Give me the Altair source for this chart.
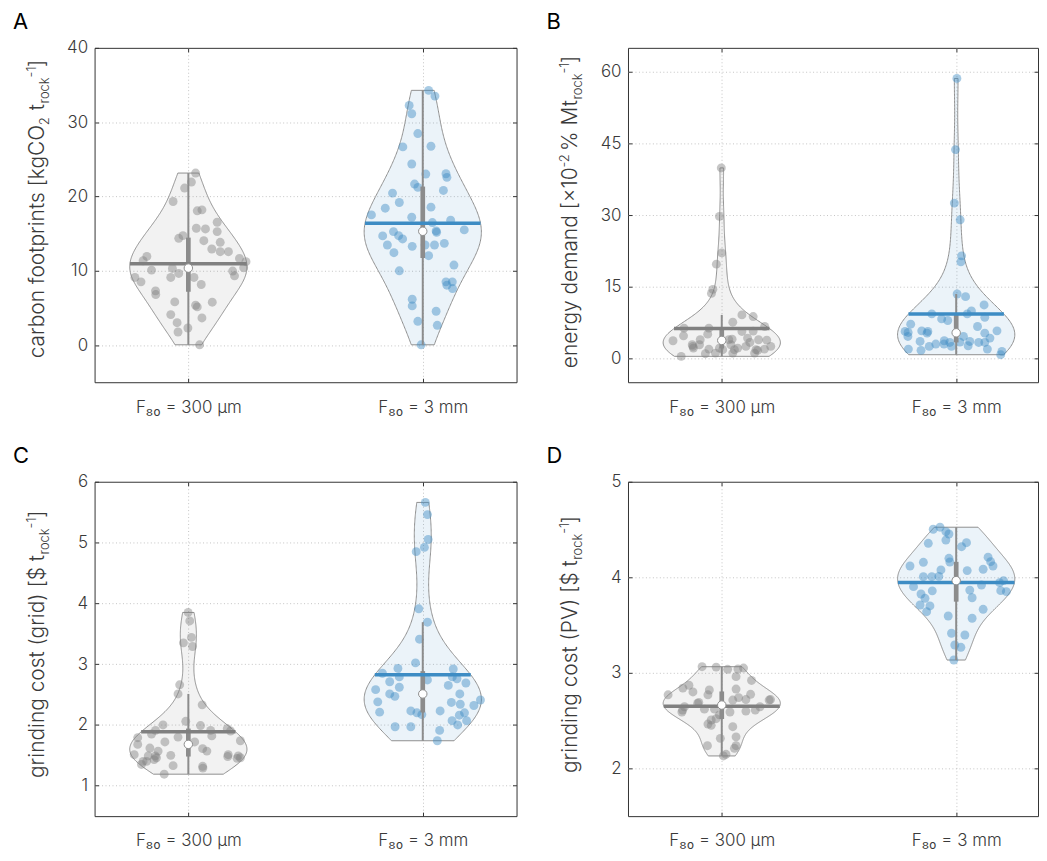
import numpy as np
import pandas as pd
import altair as alt

# ---------------- values ----------------
categories = ["F₈₀ = 300 µm", "F₈₀ = 3 mm"]

# A: carbon footprints
a_300um = [23.15, 21.94, 21.13, 19.32, 18.07, 18.2, 16.53, 15.72, 15.63, 15.27, 14.37, 14.73, 14.05, 13.83, 12.93,
           12.57, 12.57, 11.93, 11.35, 11.66, 11.22, 10.41, 10.09, 10.31, 9.64, 9.1, 9.1, 9.96, 9.32, 9.1,
           8.51, 8.15, 7.3, 6.8, 5.81, 5.36, 5.14, 5.77, 4.1, 3.65, 3.01, 1.76, 2.3, 0.04]
a_300um_jitter = [0.031, 0.013, -0.016, -0.065, 0.038, 0.058, 0.123, 0.034, 0.073, 0.123, -0.041, -0.023, 0.066, 0.136, 0.1,
                  0.136, 0.171, -0.177, -0.193, 0.218, 0.246, 0.236, -0.157, -0.068, -0.041, -0.075, 0.024, 0.189, 0.197, -0.228,
                  -0.202, 0.055, -0.14, -0.139, -0.058, 0.031, 0.038, 0.102, -0.075, 0.058, -0.048, -0.044, -0.002, 0.048]
a_3mm = [34.28, 33.51, 32.25, 31.13, 28.47, 26.67, 26.76, 24.37, 23.02, 23.06, 22.57, 21.67, 21.22, 20.81, 20.45,
         19.19, 18.42, 18.56, 17.52, 17.2, 16.8, 16.49, 15.5, 15.36, 15.18, 15.27, 14.69, 14.72, 14.28, 13.47,
         13.29, 13.47, 13.47, 13.69, 12.43, 12.03, 10.0, 10.77, 8.51, 8.51, 8.06, 7.61, 6.17, 5.27, 4.55,
         3.2, 2.66, 0.04]
a_3mm_jitter = [0.025, 0.052, -0.058, -0.047, -0.021, -0.085, 0.035, -0.047, 0.013, 0.099, 0.103, -0.035, -0.021, 0.088, -0.129,
                -0.1, -0.16, 0.035, -0.219, -0.047, 0.119, 0.041, 0.177, 0.057, 0.059, -0.125, -0.171, -0.103, -0.086, -0.151,
                -0.045, 0.01, 0.05, 0.092, -0.123, 0.025, -0.1, 0.133, 0.099, 0.126, 0.103, 0.127, -0.045, -0.045, 0.057,
                -0.021, 0.062, -0.007]

# B: energy demand
b_300um = [39.86, 29.72, 22.08, 19.72, 14.44, 13.6, 9.1, 8.75, 7.57, 6.67, 6.32, 6.32, 5.63, 5.7, 5.07,
           4.72, 3.68, 3.89, 4.02, 4.24, 3.89, 3.82, 2.85, 2.15, 3.9, 2.85, 1.94, 2.15, 1.81, 2.5,
           1.81, 1.94, 2.5, 0.97, 0.42, 1.1, 1.1, 2.15, 2.5, 1.67, 1.81, 3.33, 2.85, 1.1]
b_300um_jitter = [-0.002, -0.01, 0.0, -0.023, -0.038, -0.044, 0.086, 0.134, 0.047, 0.183, -0.161, -0.055, 0.086, 0.134, -0.06,
                  -0.163, -0.208, -0.092, 0.044, 0.11, 0.157, 0.192, -0.126, -0.121, 0.03, 0.039, -0.055, 0.068, 0.004, 0.103,
                  0.146, 0.182, 0.209, -0.07, -0.173, 0.047, 0.14, -0.01, -0.123, 0.153, 0.054, 0.12, -0.095, -0.027]
b_3mm = [58.6, 43.7, 32.5, 29.0, 21.46, 20.2, 13.47, 12.92, 11.18, 9.31, 9.93, 9.31, 8.26, 7.92, 8.6,
         7.15, 6.67, 5.63, 5.76, 5.63, 5.28, 5.28, 5.76, 4.58, 4.58, 4.24, 3.54, 3.54, 3.68, 2.99,
         2.5, 2.99, 3.33, 3.33, 3.33, 2.64, 1.94, 1.67, 1.94, 1.46, 0.76, 5.42, 2.5, 3.4]
b_3mm_jitter = [0.003, -0.003, -0.008, 0.017, 0.023, 0.02, 0.004, 0.04, 0.119, -0.104, 0.065, 0.047, -0.062, -0.036, 0.122,
                -0.194, 0.091, -0.218, -0.147, -0.121, -0.124, 0.122, 0.174, -0.206, 0.031, 0.144, -0.154, 0.058, -0.051, -0.087,
                -0.115, -0.052, -0.027, 0.096, 0.122, 0.051, -0.204, -0.15, 0.133, 0.195, 0.19, -0.205, -0.02, 0.016]

# C: grinding cost (grid)
c_300um = [3.85, 3.71, 3.44, 3.35, 3.29, 2.66, 2.51, 2.33, 2.06, 2.0, 1.99, 1.91, 1.85, 1.91, 1.94,
           1.82, 1.9, 1.72, 1.72, 1.74, 1.68, 1.62, 1.61, 1.51, 1.5, 1.51, 1.49, 1.46, 1.49, 1.4,
           1.43, 1.33, 1.32, 1.45, 1.35, 1.19, 1.57, 1.79, 1.57, 1.48, 1.49, 1.4, 1.29, 1.46, 1.8]
c_300um_jitter = [-0.001, 0.006, 0.013, -0.021, 0.018, -0.037, -0.044, 0.059, -0.011, -0.108, 0.052, -0.14, -0.157, 0.095, 0.166,
                  0.1, 0.18, 0.027, -0.1, 0.222, -0.216, -0.164, 0.061, -0.231, -0.075, 0.17, 0.213, -0.136, -0.171, -0.193,
                  -0.146, -0.065, 0.061, 0.208, -0.2, -0.103, -0.129, -0.216, 0.079, 0.168, -0.141, -0.178, 0.062, 0.222, -0.044]
c_3mm = [5.66, 5.46, 5.05, 4.92, 4.85, 3.91, 3.69, 3.41, 3.02, 2.93, 2.92, 2.85, 2.79, 2.79, 2.76,
         2.74, 2.71, 2.69, 2.65, 2.62, 2.58, 2.51, 2.51, 2.47, 2.41, 2.38, 2.37, 2.34, 2.32, 2.23,
         2.23, 2.2, 2.21, 2.2, 2.17, 2.16, 2.07, 2.07, 2.0, 1.97, 1.97, 1.91, 1.74]
c_3mm_jitter = [0.011, 0.02, 0.023, 0.007, -0.028, -0.017, 0.02, -0.014, -0.031, -0.106, 0.13, -0.172, -0.1, 0.126, 0.146,
                0.02, -0.141, 0.184, 0.109, -0.1, -0.201, 0.158, -0.141, -0.119, 0.246, -0.192, 0.122, 0.16, 0.218, -0.051,
                0.074, 0.178, -0.184, -0.025, -0.004, 0.156, 0.125, 0.187, 0.149, -0.118, -0.051, 0.072, 0.062]

# D: grinding cost (PV)
d_300um = [3.064, 3.06, 3.037, 3.04, 2.96, 2.92, 3.05, 2.87, 2.84, 2.80, 2.82, 2.83, 2.77, 2.77, 2.775,
           2.74, 2.69, 2.715, 2.72, 2.715, 2.645, 2.62, 2.62, 2.645, 2.59, 2.59, 2.6, 2.56, 2.506, 2.52,
           2.464, 2.45, 2.436, 2.314, 2.237, 2.33, 2.237, 2.147, 2.13, 2.68, 2.61, 2.72, 2.61, 2.21]
d_300um_jitter = [-0.084, -0.024, 0.025, 0.069, 0.061, 0.127, 0.093, -0.14, -0.166, -0.123, -0.053, 0.061, -0.229, -0.059, 0.123,
                  0.072, -0.098, 0.047, 0.103, 0.202, -0.159, -0.031, -0.074, 0.163, 0.035, -0.17, 0.103, -0.01, -0.045, -0.024,
                  -0.059, -0.045, 0.047, -0.006, -0.061, 0.061, 0.061, 0.018, 0.007, -0.103, 0.143, 0.208, -0.167, 0.054]
d_3mm = [4.503, 4.524, 4.478, 4.453, 4.39, 4.356, 4.362, 4.32, 4.118, 4.157, 4.199, 4.16, 4.21, 4.163, 4.118,
         4.084, 4.07, 4.077, 4.006, 4.006, 4.01, 3.902, 3.919, 3.944, 3.965, 3.86, 3.85, 3.825, 3.858, 3.78,
         3.866, 3.786, 3.71, 3.7, 3.64, 3.665, 3.595, 3.571, 3.414, 3.396, 3.291, 3.267, 3.134]
d_3mm_jitter = [-0.098, -0.069, -0.044, -0.031, -0.044, -0.119, 0.044, 0.023, -0.197, -0.14, -0.031, -0.027, 0.136, 0.147, 0.157,
                0.115, 0.047, -0.065, -0.14, -0.104, -0.074, -0.182, 0.108, 0.185, 0.202, 0.19, 0.214, -0.15, -0.102, -0.133,
                0.058, 0.068, -0.154, -0.112, -0.126, 0.115, -0.034, 0.068, -0.02, 0.037, -0.006, 0.02, -0.01]

a_ticks = [0, 10, 20, 30, 40]
b_ticks = [0, 15, 30, 45, 60]
c_ticks = [1, 2, 3, 4, 5, 6]
d_ticks = [2, 3, 4, 5]

# ---------------- style ----------------
FONT = "Inter"
TXT = "#3a3a3a"
FRAME = "#333333"
GRID = "#c4c4c4"
GRAY = "#808080"
BLUE = "#3d8cc4"
BOXC = "#8c8c8c"
EDGE = "#8f8f8f"
HALF = 0.25
ONE = pd.DataFrame({"k": [0]})

CW = {' ': 0.27, 'a': 0.57, 'b': 0.61, 'c': 0.55, 'd': 0.61, 'e': 0.58, 'f': 0.35, 'g': 0.61, 'h': 0.6,
      'i': 0.24, 'k': 0.53, 'l': 0.24, 'm': 0.89, 'n': 0.6, 'o': 0.6, 'p': 0.61, 'r': 0.38, 's': 0.52,
      't': 0.36, 'u': 0.6, 'y': 0.53, 'C': 0.74, 'O': 0.78, 'M': 0.87, 'P': 0.64, 'V': 0.69, '[': 0.33,
      ']': 0.33, '(': 0.34, ')': 0.34, '$': 0.62, '%': 0.82, '×': 0.55, '-': 0.42, '0': 0.64, '1': 0.42,
      '2': 0.6}


def twidth(t, size):
    return sum(CW.get(ch, 0.56) for ch in t) * size


def kde(vals):
    v = np.asarray(vals, float)
    n = v.size
    bw = 1.06 * v.std(ddof=1) * n ** -0.2
    grid = np.linspace(v.min(), v.max(), 200)
    dens = np.exp(-0.5 * ((grid[:, None] - v[None, :]) / bw) ** 2).sum(1) / (n * bw * np.sqrt(2 * np.pi))
    m = v.mean()
    dm = np.exp(-0.5 * ((m - v) / bw) ** 2).sum() / (n * bw * np.sqrt(2 * np.pi))
    return grid, dens / dens.max() * HALF, m, dm / dens.max() * HALF


def panel(fine, fine_j, coarse, coarse_j, ydom, yticks, segs, letter, width, xmax):
    pts, vio, mean_rows = [], [], []
    for pos, g, vals, jit in [(0, "fine", fine, fine_j), (1, "coarse", coarse, coarse_j)]:
        for v, j in zip(vals, jit):
            pts.append({"pos": pos, "g": g, "val": v, "xo": j})
        grid, hw, m, mhw = kde(vals)
        for yv, h in zip(grid, hw):
            vio.append({"pos": pos, "g": g, "y": yv, "lo": pos - h, "hi": pos + h})
        mean_rows.append({"pos": pos, "g": g, "mean": m, "ml": pos - mhw, "mr": pos + mhw})
    pts = pd.DataFrame(pts)
    vio = pd.DataFrame(vio)
    means = pd.DataFrame(mean_rows)

    xs = alt.Scale(domain=[-0.4, xmax], nice=False, zero=False)
    ys = alt.Scale(domain=ydom, nice=False, zero=False)
    col = alt.Color("g:N", scale=alt.Scale(domain=["fine", "coarse"], range=[GRAY, BLUE]), legend=None)
    lab = f"datum.value == 0 ? '{categories[0]}' : '{categories[1]}'"
    inner = [t for t in yticks if ydom[0] < t < ydom[1]]

    ax_x_main = alt.Axis(values=[0, 1], labelExpr=lab, ticks=False, domain=False, grid=True,
                         gridDash=[1, 2.5], gridColor=GRID, labelPadding=17, title=None)
    ax_y_main = alt.Axis(values=yticks, ticks=False, domain=False, grid=False, labelPadding=7, title=None)
    ax_y_grid = alt.Axis(orient="left", values=inner, ticks=False, labels=False, domain=False, grid=True,
                         gridDash=[1, 2.5], gridColor=GRID, title=None)
    ax_x_top = alt.Axis(orient="top", values=[0, 1], offset=-4, tickSize=4, labels=False, grid=False,
                        domain=False, title=None)
    ax_y_right = alt.Axis(orient="right", values=yticks, offset=-4, tickSize=4, labels=False, grid=False,
                          domain=False, title=None)
    ax_x_bot = alt.Axis(orient="bottom", values=[0, 1], offset=-4, tickSize=4, labels=False, grid=False,
                        domain=False, title=None)
    ax_y_left = alt.Axis(orient="left", values=yticks, offset=-4, tickSize=4, labels=False, grid=False,
                         domain=False, title=None)

    violin = alt.Chart(vio).mark_area(orient="horizontal", fillOpacity=0.1, stroke=EDGE, strokeWidth=1).encode(
        y=alt.Y("y:Q", scale=ys, axis=ax_y_main),
        x=alt.X("lo:Q", scale=xs, axis=ax_x_main, stack=None),
        x2="hi:Q",
        color=col,
    )
    points = alt.Chart(pts).transform_calculate(xp="datum.pos + datum.xo").mark_circle(
        size=80, opacity=0.45).encode(
        x=alt.X("xp:Q", scale=xs, axis=ax_x_top),
        y=alt.Y("val:Q", scale=ys, axis=ax_y_right),
        color=col,
    )
    whisk = alt.Chart(pts).transform_joinaggregate(
        q1="q1(val)", q3="q3(val)", groupby=["pos"]
    ).transform_calculate(
        lof="datum.q1 - 1.5*(datum.q3 - datum.q1)", hif="datum.q3 + 1.5*(datum.q3 - datum.q1)"
    ).transform_filter(
        "datum.val >= datum.lof && datum.val <= datum.hif"
    ).transform_aggregate(
        wlo="min(val)", whi="max(val)", groupby=["pos"]
    ).mark_rule(color=BOXC, strokeWidth=2).encode(
        x=alt.X("pos:Q", scale=xs, axis=ax_x_bot),
        y=alt.Y("wlo:Q", scale=ys, axis=ax_y_left),
        y2="whi:Q",
    )
    box = alt.Chart(pts).transform_aggregate(
        q1="q1(val)", q3="q3(val)", groupby=["pos"]
    ).mark_rule(color=BOXC, strokeWidth=4.7, strokeCap="butt").encode(
        x=alt.X("pos:Q", scale=xs, axis=None),
        y=alt.Y("q1:Q", scale=ys, axis=ax_y_grid),
        y2="q3:Q",
    )
    mean = alt.Chart(means).mark_rule(strokeWidth=3.5, strokeCap="butt").encode(
        x=alt.X("ml:Q", scale=xs, axis=None),
        x2="mr:Q",
        y=alt.Y("mean:Q", scale=ys, axis=None),
        color=col,
    )
    med = alt.Chart(pts).transform_aggregate(
        med="median(val)", groupby=["pos"]
    ).mark_point(filled=True, fill="white", stroke=BOXC, strokeWidth=1, size=72, opacity=1).encode(
        x=alt.X("pos:Q", scale=xs, axis=None),
        y=alt.Y("med:Q", scale=ys, axis=None),
    )

    texts = [alt.Chart(ONE).mark_text(text=letter, font=FONT, fontSize=22, fontWeight=400, color="black",
                                      align="left", baseline="alphabetic").encode(
        x=alt.value(-82), y=alt.value(-19))]
    total = sum(twidth(t, s) for t, s, _ in segs)
    cursor = 165 - total / 2
    for t, s, shift in reversed(segs):
        texts.append(alt.Chart(ONE).mark_text(text=t.strip(), font=FONT, fontSize=s, fontWeight=300, color=TXT,
                                              angle=270, align="right", baseline="alphabetic").encode(
            x=alt.value(-51 - shift), y=alt.value(cursor)))
        cursor += twidth(t, s)

    return alt.layer(violin, points, whisk, box, mean, med, *texts).resolve_axis(
        x="independent", y="independent").properties(width=width, height=336)


SUB, SUP = -5, 8
pA = panel(a_300um, a_300um_jitter, a_3mm, a_3mm_jitter, [-5, 40], a_ticks,
           [("carbon footprints [kgCO", 21, 0), ("2", 13, SUB), (" t", 21, 0), ("rock", 13, SUB),
            ("-1", 13, SUP), ("]", 21, 0)], "A", 424, 1.4)
pB = panel(b_300um, b_300um_jitter, b_3mm, b_3mm_jitter, [-5, 65], b_ticks,
           [("energy demand [×10", 21, 0), ("-2", 13, SUP), (" % Mt", 21, 0), ("rock", 13, SUB),
            ("-1", 13, SUP), ("]", 21, 0)], "B", 412, 1.349)
pC = panel(c_300um, c_300um_jitter, c_3mm, c_3mm_jitter, [0.5, 6], c_ticks,
           [("grinding cost (grid) [$ t", 21, 0), ("rock", 13, SUB), ("-1", 13, SUP), ("]", 21, 0)],
           "C", 424, 1.4)
pD = panel(d_300um, d_300um_jitter, d_3mm, d_3mm_jitter, [1.5, 5], d_ticks,
           [("grinding cost (PV) [$ t", 21, 0), ("rock", 13, SUB), ("-1", 13, SUP), ("]", 21, 0)],
           "D", 412, 1.349)

chart = alt.concat(pA, pB, pC, pD, columns=2, spacing={"row": 100, "column": 112}, bounds="flush").properties(
    padding={"left": 4, "top": 0, "right": 0, "bottom": 0}
).configure_axis(
    labelFont=FONT, labelFontWeight=300, labelColor=TXT, labelFontSize=17, tickColor=FRAME, tickWidth=1
).configure_view(stroke=FRAME, strokeWidth=1)

chart.save("out.html", embed_options={"renderer": "svg", "actions": False})
